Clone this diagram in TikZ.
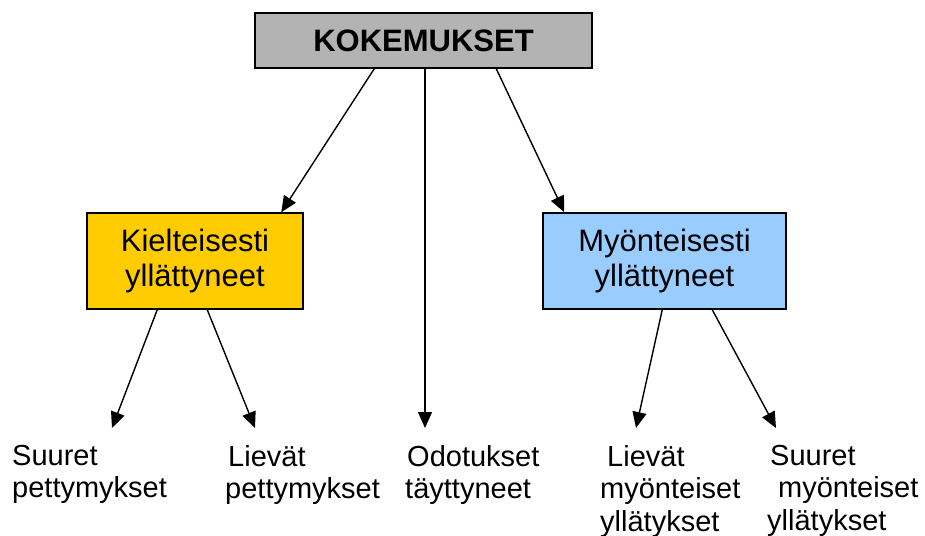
\documentclass[tikz,border=0pt]{standalone}
\usepackage{fontspec}
\setmainfont{Liberation Sans}
\usetikzlibrary{arrows.meta}
\definecolor{boxgray}{HTML}{B3B3B3}
\definecolor{boxyellow}{HTML}{FFCC00}
\definecolor{boxblue}{HTML}{99CCFF}
\tikzset{
  box/.style={draw=black, line width=1.5pt, inner sep=0pt, align=center},
  boxtext/.style={font=\fontsize{31}{35}\selectfont},
  leaf/.style={anchor=north west, inner sep=0pt, align=left, font=\fontsize{29}{32.5}\selectfont},
  arr/.style={line width=1.4pt, -{Triangle[length=16pt,width=14pt]}}
}
\begin{document}
\begin{tikzpicture}[x=1pt,y=-1pt]
\useasboundingbox (0,0) rectangle (925,535);
\node[box, fill=boxgray, minimum width=337pt, minimum height=55pt,
      font=\fontsize{31}{35}\selectfont\bfseries] (top) at (423.5,40.5) {KOKEMUKSET};
\node[box, boxtext, fill=boxyellow, minimum width=216pt, minimum height=96pt] (neg) at (195,261) {\raisebox{-3pt}{Kielteisesti}\\\raisebox{-3pt}{yllättyneet}};
\node[box, boxtext, fill=boxblue, minimum width=243pt, minimum height=96pt] (pos) at (664.5,261) {\raisebox{-3pt}{Myönteisesti}\\\raisebox{-3pt}{yllättyneet}};

\node[leaf] (suurp) at (12,445) {Suuret\\pettymykset};
\node[leaf] (lievp) at (225,445) {\hspace*{3pt}Lievät\\pettymykset};
\node[leaf] (odot) at (405,445) {\hspace*{2pt}Odotukset\\täyttyneet};
\node[leaf] (lievm) at (600,445) {\hspace*{7pt}Lievät\\myönteiset\\yllätykset};
\node[leaf] (suurm) at (767,445) {\hspace*{3pt}Suuret\\\hspace*{11pt}myönteiset\\yllätykset};

\coordinate (e1) at (112,428);
\coordinate (e2) at (255,428);
\coordinate (e3) at (425,428);
\coordinate (e4) at (636,428);
\coordinate (e5) at (776,428);

\draw[arr] ([xshift=120pt]top.south west) -- ([xshift=195pt]neg.north west);
\draw[arr] ([xshift=1.5pt]top.south) -- (e3);
\draw[arr] ([xshift=242pt]top.south west) -- ([xshift=22pt]pos.north west);
\draw[arr] ([xshift=71pt]neg.south west) -- (e1);
\draw[arr] ([xshift=121pt]neg.south west) -- (e2);
\draw[arr] ([xshift=120pt]pos.south west) -- (e4);
\draw[arr] ([xshift=170pt]pos.south west) -- (e5);
\end{tikzpicture}
\end{document}
